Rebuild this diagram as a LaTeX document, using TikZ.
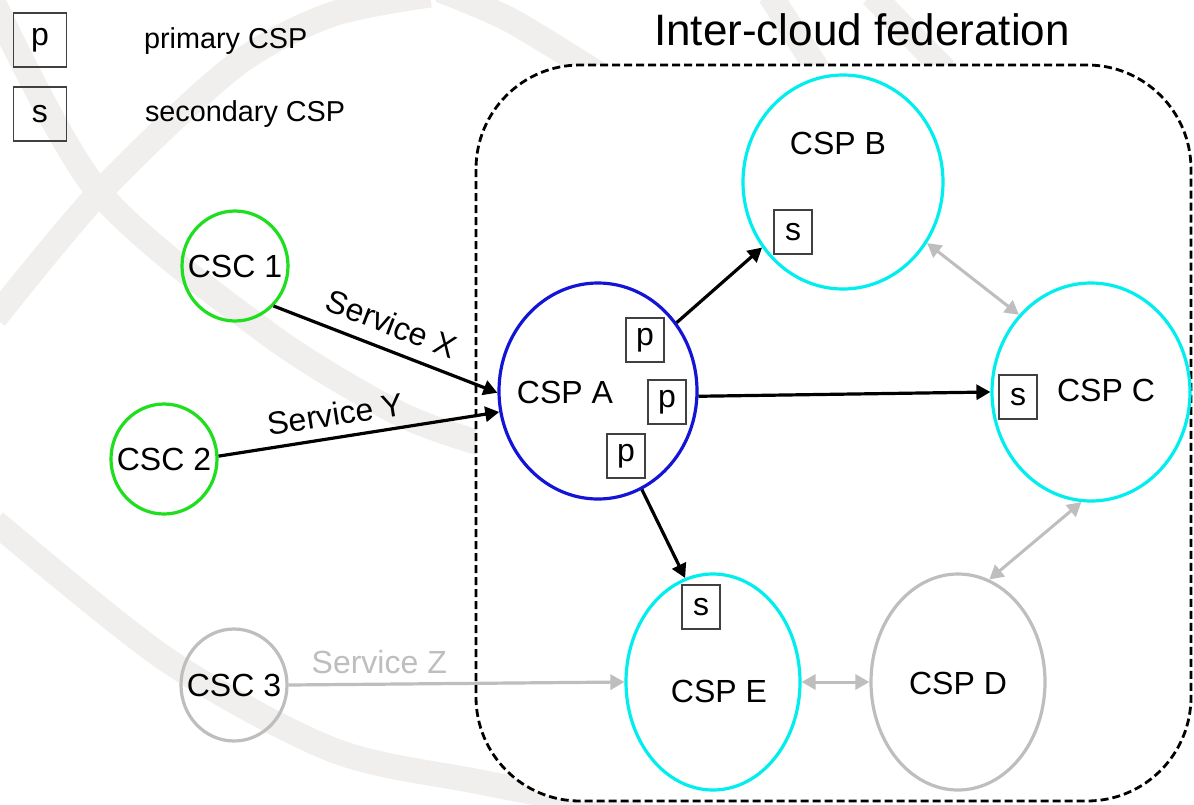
\documentclass[tikz,border=0pt]{standalone}
\usepackage{fontspec}
\setmainfont{Liberation Sans}
\usetikzlibrary{shapes.geometric,arrows.meta}

\definecolor{cscgreen}{RGB}{30,222,30}
\definecolor{cspblue}{RGB}{20,20,215}
\definecolor{cspcyan}{RGB}{0,238,238}
\definecolor{offgray}{RGB}{190,190,190}
\definecolor{markgray}{RGB}{241,239,237}

\begin{document}
\begin{tikzpicture}[x=0.5pt, y=-0.5pt, >={Triangle[length=7pt,width=7.5pt]},
  font=\fontsize{16}{18}\selectfont,
  party/.style={ellipse, draw, line width=1.6pt, inner sep=0pt},
  csc/.style={party, minimum width=53pt, minimum height=55pt},
  csp/.style={party, minimum width=99pt, minimum height=108pt},
  tag/.style={draw=black!75, line width=0.7pt, minimum width=19pt, minimum height=22pt, inner sep=0pt},
  keybox/.style={tag, minimum width=26.5pt, minimum height=27pt},
  keytext/.style={anchor=base west, font=\fontsize{14.4}{16}\selectfont},
  flow/.style={->, line width=1.6pt},
  peer/.style={<->, line width=1.5pt, offgray},
  band/.style={line width=12.5pt, markgray}]
\useasboundingbox[fill=white] (0,0) rectangle (1194,804);

\draw[band] plot[smooth] coordinates {(-10,-5) (97,190) (267,333) (400,414) (490,446)};
\draw[band] plot[smooth] coordinates {(-5,318) (100,192) (233,67) (330,15) (430,-5)};
\draw[band] plot[smooth] coordinates {(440,-10) (510,20) (600,75)};
\draw[band] plot[smooth] coordinates {(-5,522) (167,660) (333,750) (480,782) (640,812)};
\draw[band] (770,-5) -- (818,70);
\draw[band] (872,-5) -- (945,70);

\draw[dash pattern=on 4pt off 2pt, line width=1.4pt, rounded corners=52pt, fill=white] (476,65) rectangle (1191,801);
\node[anchor=base, font=\fontsize{22}{24}\selectfont] (title) at (862,45) {Inter-cloud federation};

\node[keybox] (keyp) at (40,40) {p};
\node[keybox] (keys) at (40,114) {s};
\node[keytext] (keyptxt) at (137,48) {primary CSP};
\node[keytext] (keystxt) at (138,121) {secondary CSP};

\node[csc, draw=cscgreen, label=center:CSC 1] (csc1) at (235,266) {};
\node[csc, draw=cscgreen, label=center:CSC 2] (csc2) at (164,459) {};
\node[csc, draw=offgray, minimum height=56pt, label=center:CSC 3] (csc3) at (234,685) {};

\node[csp, draw=cspblue] (cspa) at (598,391) {};
\node[csp, draw=cspcyan, minimum width=100pt, minimum height=107pt] (cspb) at (843,182) {};
\node[csp, draw=cspcyan, minimum height=109pt] (cspc) at (1091,392) {};
\node[csp, draw=cspcyan, minimum width=87pt] (cspe) at (713,682) {};
\node[csp, draw=offgray, minimum width=87pt] (cspd) at (958,682) {};

\node (cspatxt) at (565,392) {CSP A};
\node (cspbtxt) at (838,143) {CSP B};
\node (cspctxt) at (1106,390) {CSP C};
\node (cspetxt) at (719,691) {CSP E};
\node (cspdtxt) at (958,683) {CSP D};

\node[tag] (ta1) at (645,340) {p};
\node[tag] (ta2) at (667,402) {p};
\node[tag] (ta3) at (626,456) {p};
\node[tag] (tb) at (793,232) {s};
\node[tag] (tc) at (1018,397) {s};
\node[tag] (te) at (701,607) {s};

\draw[flow] (csc1.-46) -- node[sloped, above=3pt, pos=0.485] (svcx) {Service X} (cspa.181);
\draw[flow] (csc2.3) -- node[sloped, above=1.7pt, pos=0.43] (svcy) {Service Y} (cspa.192);
\draw[flow, offgray] (csc3.0) -- node[above=1.3pt, pos=0.27, text=offgray] (svcz) {Service Z} (cspe.180);
\draw[flow] (cspa.41) -- (cspb.219);
\draw[flow] (cspa.-3) -- (cspc.180);
\draw[flow] (cspa.-66) -- (cspe.105);
\draw[peer] (cspb.-36) -- (cspc.133);
\draw[peer] (cspc.-95) -- (cspd.73);
\draw[peer] (cspe.0) -- (cspd.180);
    %
\end{tikzpicture}
\end{document}
